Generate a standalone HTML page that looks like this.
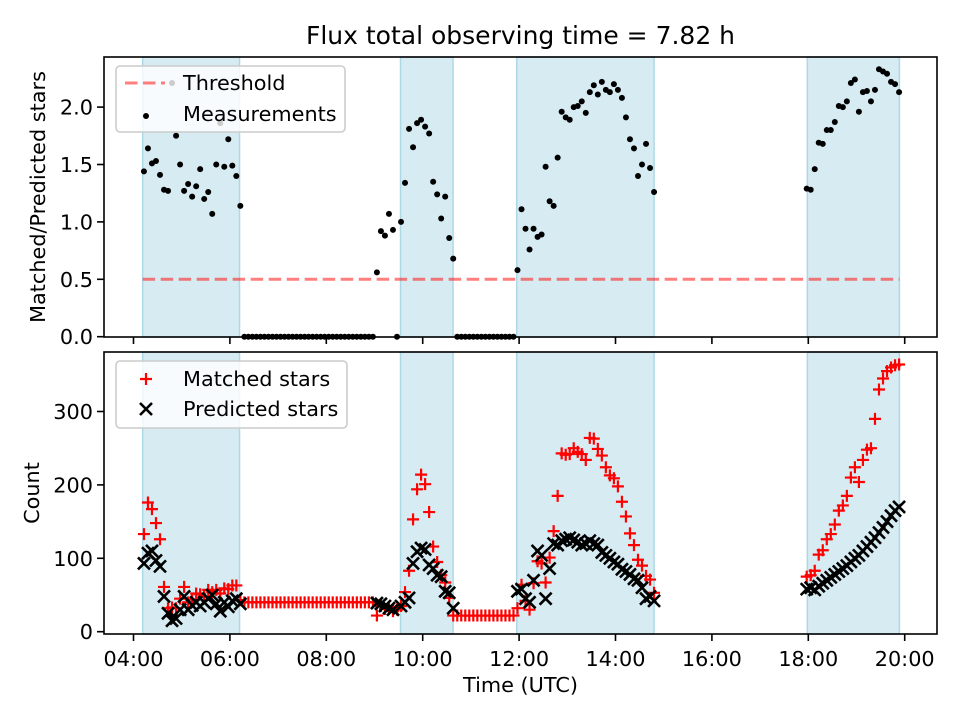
<!DOCTYPE html>
<html><head><meta charset="utf-8"><style>
html,body{margin:0;padding:0;background:#fff;}
svg{display:block;font-family:"DejaVu Sans","Liberation Sans",sans-serif;}
</style></head><body>
<svg id="chart" width="960" height="720" viewBox="0 0 960 720" xmlns="http://www.w3.org/2000/svg"></svg>
<script>
// ---- data ----
const times = ["04:13","04:18","04:23","04:28","04:33","04:38","04:43","04:48","04:53","04:58","05:03","05:08","05:13","05:18","05:23","05:28","05:33","05:38","05:43","05:48","05:53","05:58","06:03","06:08","06:13",
"06:18","06:23","06:28","06:33","06:38","06:43","06:48","06:53","06:58","07:03","07:08","07:13","07:18","07:23","07:28","07:33","07:38","07:43","07:48","07:53","07:58","08:03","08:08","08:13","08:18","08:23","08:28","08:33","08:38","08:43","08:48","08:53","08:58",
"09:03","09:08","09:13","09:18","09:23","09:28","09:33","09:38","09:43","09:48","09:53","09:58","10:03","10:08","10:13","10:18","10:23","10:28","10:33","10:38",
"10:43","10:48","10:53","10:58","11:03","11:08","11:13","11:18","11:23","11:28","11:33","11:38","11:43","11:48","11:53",
"11:58","12:03","12:08","12:13","12:18","12:23","12:28","12:33","12:38","12:43","12:48","12:53","12:58","13:03","13:08","13:13","13:18","13:23","13:28","13:33","13:38","13:43","13:48","13:53","13:58","14:03","14:08","14:13","14:18","14:23","14:28","14:33","14:38","14:43","14:48",
"17:58","18:03","18:08","18:13","18:18","18:23","18:28","18:33","18:38","18:43","18:48","18:53","18:58","19:03","19:08","19:13","19:18","19:23","19:28","19:33","19:38","19:43","19:48","19:53"];
const ratio = [1.44,1.64,1.51,1.53,1.41,1.28,1.27,2.21,1.75,1.50,1.27,1.33,1.22,1.31,1.46,1.20,1.26,1.07,1.50,1.86,1.48,1.72,1.49,1.40,1.14,
0,0,0,0,0,0,0,0,0,0,0,0,0,0,0,0,0,0,0,0,0,0,0,0,0,0,0,0,0,0,0,0,0,
0.56,0.92,0.88,1.07,0.93,0,1.00,1.34,1.81,1.65,1.86,1.89,1.83,1.77,1.35,1.24,1.03,1.22,0.86,0.68,
0,0,0,0,0,0,0,0,0,0,0,0,0,0,0,
0.58,1.11,0.94,0.76,0.94,0.87,0.89,1.48,1.18,1.14,1.56,1.96,1.91,1.89,2.00,2.01,2.05,1.95,2.13,2.19,2.11,2.22,2.15,2.13,2.20,2.15,2.08,1.91,1.72,1.64,1.40,1.50,1.68,1.47,1.26,
1.29,1.28,1.46,1.69,1.68,1.80,1.80,1.87,2.01,2.00,2.05,2.21,2.24,1.96,2.13,2.14,2.05,2.15,2.33,2.31,2.29,2.22,2.20,2.13];
const matched = [133,176,167,148,126,61,32,33,32,45,61,40,44,52,51,48,57,54,57,52,59,58,63,63,43,
40,40,40,40,40,40,40,40,40,40,40,40,40,40,40,40,40,40,40,40,40,40,40,40,40,40,40,40,40,40,40,40,40,
22,35,31,34,28,30,35,54,83,153,194,214,201,163,116,95,77,67,46,22,
22,22,22,22,22,22,22,22,22,22,22,22,22,22,22,
32,64,42,30,66,96,93,67,101,137,185,243,241,242,250,245,242,234,264,263,249,240,224,213,209,198,177,157,134,118,98,90,76,71,53,
75,77,83,105,111,126,133,146,165,172,185,210,224,204,234,248,250,290,330,345,355,360,363,364];
const predicted = [93,107,110,97,89,48,25,15,18,30,48,30,36,40,35,40,45,50,38,28,40,34,42,45,38,
null,null,null,null,null,null,null,null,null,null,null,null,null,null,null,null,null,null,null,null,null,null,null,null,null,null,null,null,null,null,null,null,null,
39,38,35,32,30,null,35,40,46,93,109,114,112,91,86,77,75,55,53,32,
null,null,null,null,null,null,null,null,null,null,null,null,null,null,null,
55,58,45,40,70,110,104,45,86,120,118,124,126,128,125,122,118,120,124,120,118,108,104,100,95,92,85,82,78,72,70,60,45,48,42,
58,60,57,62,66,70,74,78,82,86,90,95,100,104,110,116,122,128,135,142,150,158,165,170];
const spanStarts = [4.19, 9.54, 11.95, 17.98];
const spanEnds = [6.20, 10.63, 14.80, 19.89];
const threshold = [0.5];
const xTickLabels = ["04:00","06:00","08:00","10:00","12:00","14:00","16:00","18:00","20:00"];
const topTicks = [0, 0.5, 1.0, 1.5, 2.0];
const botTicks = [0, 100, 200, 300];

// ---- axes ----
const L = 104, R = 937;
const T1 = 57, B1 = 337, T2 = 352, B2 = 634;
const FS = 20.8;
function xs(h){ return 133.5 + (h - 4) * 48.2; }
function yTop(v){ return 336.7 - v * 114.8; }
function yBot(c){ return 631.7 - c * 0.734; }
function hrs(s){ const p = s.split(":"); return +p[0] + (+p[1]) / 60; }

const NS = "http://www.w3.org/2000/svg";
const svg = document.getElementById("chart");
function mk(tag, attrs, parent){
  const e = document.createElementNS(NS, tag);
  for (const k in attrs) e.setAttribute(k, attrs[k]);
  (parent || svg).appendChild(e);
  return e;
}
function grp(parent){ return mk("g", {}, parent); }

let bg = mk("rect", {x:0,y:0,width:960,height:720,fill:"#fff"});



let title = mk("text", {x:520.5, y:44, "text-anchor":"middle", "font-size":"25", fill:"#000"});
title.textContent = "Flux total observing time = 7.82 h";



function drawSpans(top, bot, name){
  const g = grp();
  
  
  for (let i = 0; i < spanStarts.length; i++){
    const x0 = xs(spanStarts[i]), x1 = xs(spanEnds[i]);
    const r = mk("rect", {x:x0, y:top, width:x1-x0, height:bot-top, fill:"#add8e6", "fill-opacity":"0.5", stroke:"#add8e6", "stroke-width":"1.5"}, g);
    
    
  }
}

function drawXTicks(bottom, labels, name){
  const g = grp();
  
  
  xTickLabels.forEach((lab) => {
    const x = xs(hrs(lab));
    const t = mk("line", {x1:x, x2:x, y1:bottom, y2:bottom+7, stroke:"#000", "stroke-width":"1.6"}, g);
    
    
    if (labels){
      const tx = mk("text", {x:x, y:bottom+32, "text-anchor":"middle", "font-size":FS, fill:"#000"}, g);
      tx.textContent = lab;
      
      
    }
  });
}

function drawYTicks(ticks, yf, fmt, name){
  const g = grp();
  
  
  ticks.forEach(v => {
    const y = yf(v);
    const t = mk("line", {x1:L-7, x2:L, y1:y, y2:y, stroke:"#000", "stroke-width":"1.6"}, g);
    
    
    const tx = mk("text", {x:L-11, y:y+7.5, "text-anchor":"end", "font-size":FS, fill:"#000"}, g);
    tx.textContent = fmt(v);
    
    
  });
}

// ===== TOP PANEL =====
drawSpans(T1, B1, "top-observing-spans");

let thr = mk("line", {x1:xs(spanStarts[0]), x2:xs(spanEnds[spanEnds.length-1]), y1:yTop(threshold[0]), y2:yTop(threshold[0]), stroke:"#ff0000", "stroke-opacity":"0.5", "stroke-width":"3", "stroke-dasharray":"12.5,5.5"});



const measG = grp();


for (let i = 0; i < times.length; i++){
  const c = mk("circle", {cx:xs(hrs(times[i])), cy:yTop(ratio[i]), r:3, fill:"#000"}, measG);
  
  
}

let ax1 = mk("rect", {x:L, y:T1, width:R-L, height:B1-T1, fill:"none", stroke:"#000", "stroke-width":"1.6"});


drawXTicks(B1, false, "top-x-ticks");
drawYTicks(topTicks, yTop, v => v.toFixed(1), "top-y-axis");

let yl1 = mk("text", {x:0, y:0, "text-anchor":"middle", "font-size":FS, fill:"#000", transform:"translate(45,197) rotate(-90)"});
yl1.textContent = "Matched/Predicted stars";



const lg1 = grp();


let lb1 = mk("rect", {x:116, y:66, width:229, height:66, rx:4, fill:"#fff", "fill-opacity":"0.8", stroke:"#cccccc", "stroke-width":"1.6"}, lg1);


let le1 = mk("line", {x1:125, x2:165, y1:83, y2:83, stroke:"#ff0000", "stroke-opacity":"0.5", "stroke-width":"3", "stroke-dasharray":"12.5,5.5"}, lg1);


let lt1 = mk("text", {x:183, y:90, "font-size":FS, fill:"#000"}, lg1);
lt1.textContent = "Threshold";


let le2 = mk("circle", {cx:146, cy:116, r:3, fill:"#000"}, lg1);


let lt2 = mk("text", {x:183, y:121, "font-size":FS, fill:"#000"}, lg1);
lt2.textContent = "Measurements";



// ===== BOTTOM PANEL =====
drawSpans(T2, B2, "bottom-observing-spans");

function plusMarker(x, y, parent){
  return mk("path", {d:`M${x-6},${y}H${x+6}M${x},${y-6}V${y+6}`, stroke:"#ff0000", "stroke-width":"2.2", fill:"none"}, parent);
}
function xMarker(x, y, parent){
  return mk("path", {d:`M${x-6},${y-6}L${x+6},${y+6}M${x-6},${y+6}L${x+6},${y-6}`, stroke:"#000", "stroke-width":"2.6", fill:"none"}, parent);
}

const mG = grp();


for (let i = 0; i < times.length; i++){
  if (matched[i] == null) continue;
  const p = plusMarker(xs(hrs(times[i])), yBot(matched[i]), mG);
  
  
}
const pG = grp();


for (let i = 0; i < times.length; i++){
  if (predicted[i] == null) continue;
  const p = xMarker(xs(hrs(times[i])), yBot(predicted[i]), pG);
  
  
}

let ax2 = mk("rect", {x:L, y:T2, width:R-L, height:B2-T2, fill:"none", stroke:"#000", "stroke-width":"1.6"});


drawXTicks(B2, true, "x-axis");
drawYTicks(botTicks, yBot, v => String(v), "bottom-y-axis");

let yl2 = mk("text", {x:0, y:0, "text-anchor":"middle", "font-size":FS, fill:"#000", transform:"translate(39,493) rotate(-90)"});
yl2.textContent = "Count";



let xl = mk("text", {x:520.5, y:692, "text-anchor":"middle", "font-size":FS, fill:"#000"});
xl.textContent = "Time (UTC)";



const lg2 = grp();


let lb2 = mk("rect", {x:116, y:361, width:231, height:67, rx:4, fill:"#fff", "fill-opacity":"0.8", stroke:"#cccccc", "stroke-width":"1.6"}, lg2);


let lm1 = plusMarker(146, 379, lg2);


let lt3 = mk("text", {x:183, y:386, "font-size":FS, fill:"#000"}, lg2);
lt3.textContent = "Matched stars";


let lm2 = xMarker(146, 409, lg2);


let lt4 = mk("text", {x:183, y:416, "font-size":FS, fill:"#000"}, lg2);
lt4.textContent = "Predicted stars";


</script>
</body></html>
